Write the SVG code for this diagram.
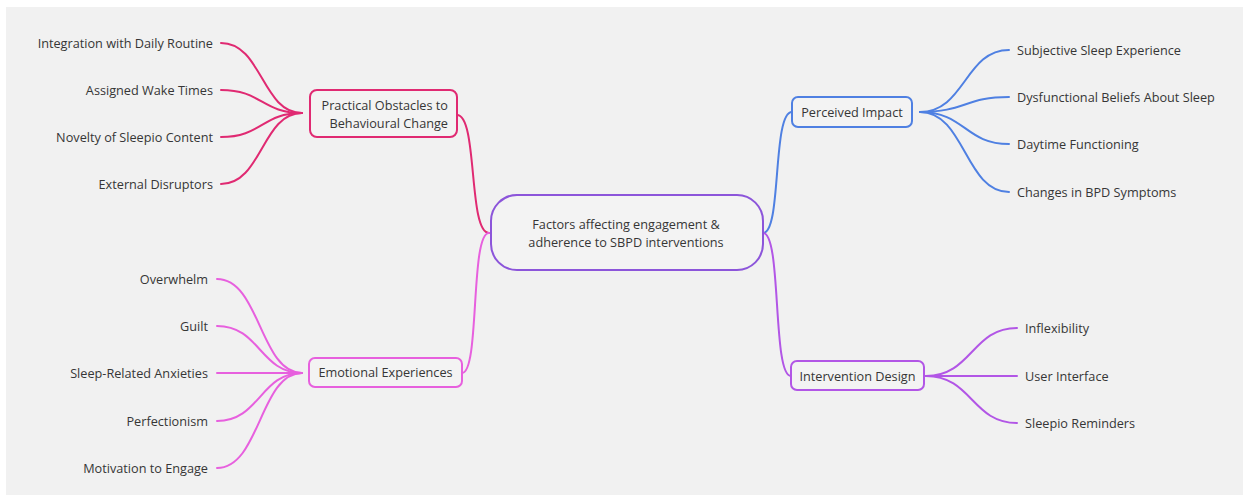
<svg xmlns="http://www.w3.org/2000/svg" width="1243" height="495" viewBox="0 0 1243 495">
<style>
text{font-family:"Open Sans","Liberation Sans",sans-serif;font-size:12.7px;fill:#363636}
.l{text-anchor:end}
.s{text-anchor:start}
.m{text-anchor:middle}
.c{fill:none;stroke-width:2;stroke-linecap:round}
.box{fill:#f3f3f3;stroke-width:2}
.pr{stroke:#e02a72}
.em{stroke:#e760de}
.pi{stroke:#4f80e2}
.id{stroke:#b256e6}
.ce{stroke:#8c55da}
</style>
<rect width="1243" height="495" fill="#ffffff"/>
<rect x="6" y="7" width="1237" height="488" fill="#f1f1f1"/>
<g id="connectors">
<path class="c pr" d="M457 115 C478 115 468 233 489 233"/>
<path class="c em" d="M462 373 C480 373 470 233 489 233"/>
<path class="c pi" d="M792 112 C772 112 782 233 763 233"/>
<path class="c id" d="M791 376 C772 376 782 233 763 233"/>
<path class="c pr" d="M221 43 C262 43 262 113 302 113"/>
<path class="c pr" d="M221 90 C262 90 262 113 302 113"/>
<path class="c pr" d="M221 137 C262 137 262 113 302 113"/>
<path class="c pr" d="M221 184 C262 184 262 113 302 113"/>
<path class="c em" d="M217 279 C260 279 260 373 302 373"/>
<path class="c em" d="M217 326 C260 326 260 373 302 373"/>
<path class="c em" d="M217 373 L302 373"/>
<path class="c em" d="M217 421 C260 421 260 373 302 373"/>
<path class="c em" d="M217 468 C260 468 260 373 302 373"/>
<path class="c pi" d="M920 112 C965 112 965 50 1009 50"/>
<path class="c pi" d="M920 112 C965 112 965 97 1009 97"/>
<path class="c pi" d="M920 112 C965 112 965 144 1009 144"/>
<path class="c pi" d="M920 112 C965 112 965 192 1009 192"/>
<path class="c id" d="M926 376 C972 376 972 328 1017 328"/>
<path class="c id" d="M926 376 L1017 376"/>
<path class="c id" d="M926 376 C972 376 972 423 1017 423"/>
</g>
<g id="central">
<rect class="box ce" x="491" y="195" width="272" height="75" rx="26"/>
<text class="m" x="626" y="229">Factors affecting engagement &amp;</text>
<text class="m" x="626" y="247">adherence to SBPD interventions</text>
</g>
<g id="practical">
<rect class="box pr" x="310" y="90" width="147" height="47" rx="7"/>
<text class="l" x="448" y="110">Practical Obstacles to</text>
<text class="l" x="448" y="128">Behavioural Change</text>
</g>
<g id="emotional">
<rect class="box em" x="309" y="358" width="153" height="29" rx="6"/>
<text class="m" x="385.5" y="377">Emotional Experiences</text>
</g>
<g id="perceived">
<rect class="box pi" x="792" y="97" width="120" height="30" rx="6"/>
<text class="m" x="852" y="116.5">Perceived Impact</text>
</g>
<g id="intervention">
<rect class="box id" x="791" y="361" width="133" height="29" rx="6"/>
<text class="m" x="857.5" y="380.5">Intervention Design</text>
</g>
<g id="leaf-integration"><text class="l" x="213" y="47.5">Integration with Daily Routine</text></g>
<g id="leaf-wake"><text class="l" x="213" y="94.5">Assigned Wake Times</text></g>
<g id="leaf-novelty"><text class="l" x="213" y="141.5">Novelty of Sleepio Content</text></g>
<g id="leaf-external"><text class="l" x="213" y="188.5">External Disruptors</text></g>
<g id="leaf-overwhelm"><text class="l" x="208" y="283.5">Overwhelm</text></g>
<g id="leaf-guilt"><text class="l" x="208" y="330.5">Guilt</text></g>
<g id="leaf-anxieties"><text class="l" x="208" y="377.5">Sleep-Related Anxieties</text></g>
<g id="leaf-perfectionism"><text class="l" x="208" y="425.5">Perfectionism</text></g>
<g id="leaf-motivation"><text class="l" x="208" y="472.5">Motivation to Engage</text></g>
<g id="leaf-subjective"><text class="s" x="1017" y="54.5">Subjective Sleep Experience</text></g>
<g id="leaf-dysfunctional"><text class="s" x="1017" y="101.5">Dysfunctional Beliefs About Sleep</text></g>
<g id="leaf-daytime"><text class="s" x="1017" y="148.5">Daytime Functioning</text></g>
<g id="leaf-bpd"><text class="s" x="1017" y="196.5">Changes in BPD Symptoms</text></g>
<g id="leaf-inflexibility"><text class="s" x="1025" y="332.5">Inflexibility</text></g>
<g id="leaf-ui"><text class="s" x="1025" y="380.5">User Interface</text></g>
<g id="leaf-reminders"><text class="s" x="1025" y="427.5">Sleepio Reminders</text></g>
</svg>
